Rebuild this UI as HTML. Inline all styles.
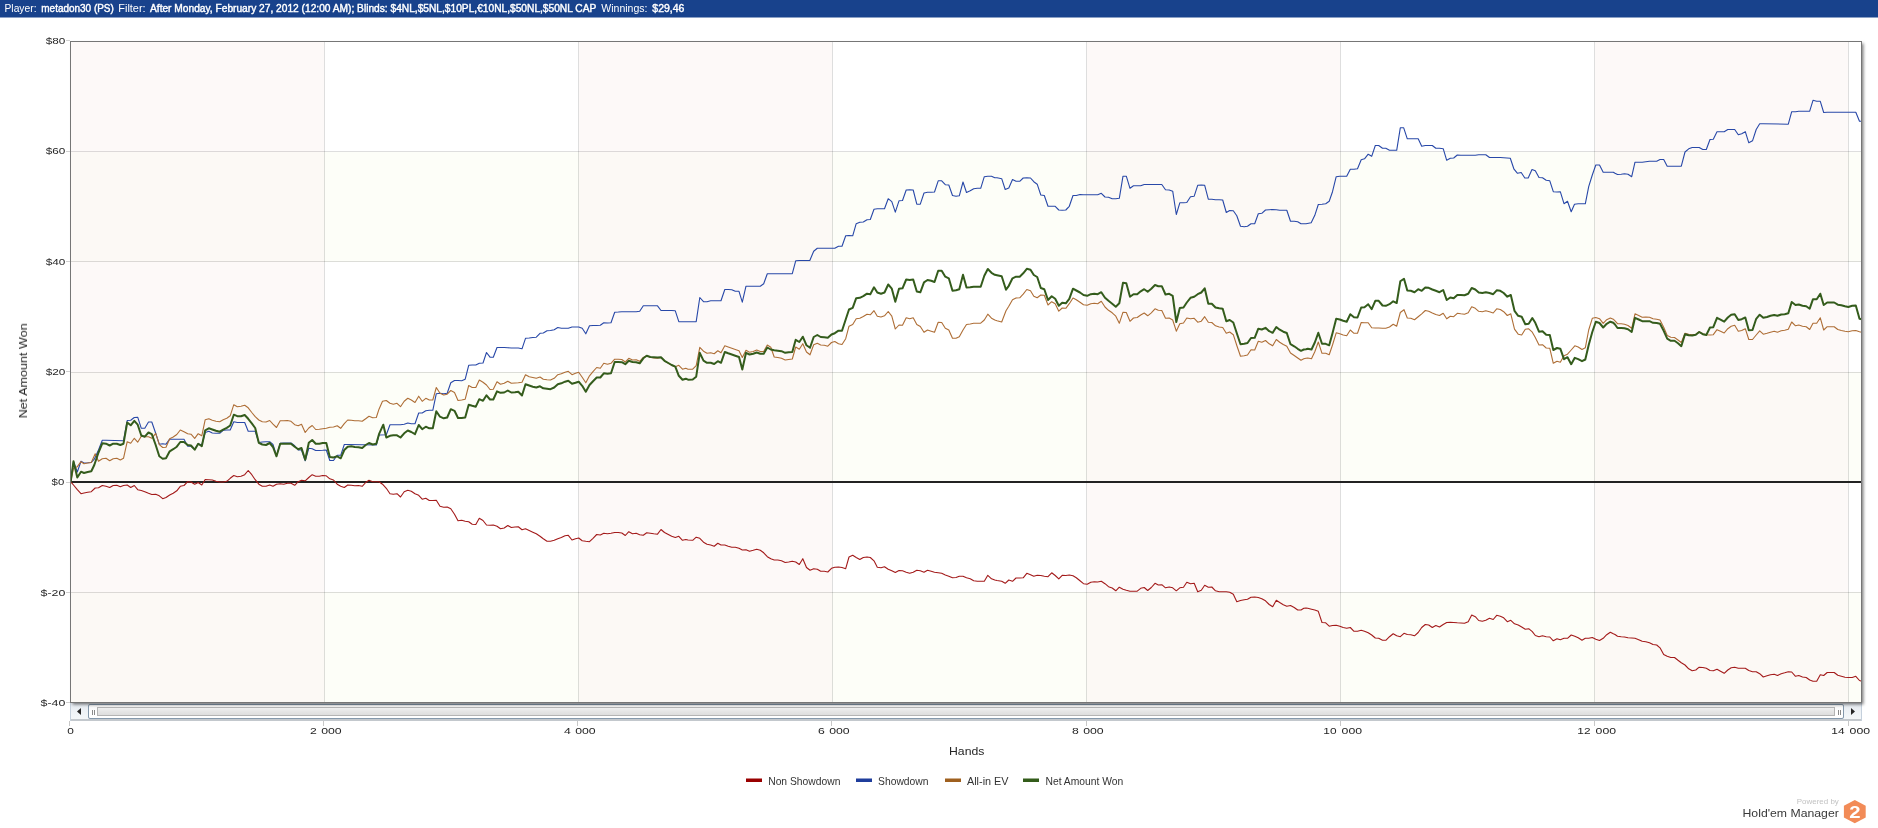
<!DOCTYPE html>
<html><head><meta charset="utf-8"><title>Hold'em Manager 2 - Graph</title>
<style>
html,body{margin:0;padding:0;background:#fff;}
body{width:1878px;height:828px;overflow:hidden;font-family:"Liberation Sans",sans-serif;}
svg{display:block;position:absolute;left:0;top:0;will-change:transform;}
text{font-family:"Liberation Sans",sans-serif;}
.ax{font-size:9.9px;fill:#262626;}
.tt{font-size:11.1px;fill:#262626;}
.lg{font-size:10.3px;fill:#333;}
.hd{font-size:10.2px;fill:#fff;}
.hb{font-size:10.2px;fill:#fff;stroke:#fff;stroke-width:0.4px;}
</style></head><body>
<svg width="1878" height="828" viewBox="0 0 1878 828">
<defs>
<linearGradient id="sbtrack" x1="0" y1="0" x2="0" y2="1"><stop offset="0" stop-color="#dfe3e8"/><stop offset="0.5" stop-color="#f3f5f8"/><stop offset="1" stop-color="#dfe4ea"/></linearGradient>
<linearGradient id="sbthumb" x1="0" y1="0" x2="0" y2="1"><stop offset="0" stop-color="#f2f2f2"/><stop offset="0.45" stop-color="#e6e6e6"/><stop offset="1" stop-color="#dcdcdc"/></linearGradient>
<linearGradient id="sbgrip" x1="0" y1="0" x2="0" y2="1"><stop offset="0" stop-color="#f4f4f4"/><stop offset="0.5" stop-color="#ffffff"/><stop offset="1" stop-color="#ffffff"/></linearGradient>
<linearGradient id="sbbtn" x1="0" y1="0" x2="0" y2="1"><stop offset="0" stop-color="#e3e8ee"/><stop offset="0.5" stop-color="#eef2f6"/><stop offset="1" stop-color="#f4f7f9"/></linearGradient>
<filter id="blur" x="-1%" y="-3%" width="102%" height="106%"><feGaussianBlur stdDeviation="1.4"/></filter>
<clipPath id="plotclip"><rect x="71" y="42" width="1790.5" height="660"/></clipPath>
</defs>

<rect x="0" y="0" width="1878" height="17.5" fill="#18428c"/>
<text x="4.5" y="12.1" class="hd" textLength="32" lengthAdjust="spacingAndGlyphs">Player:</text>
<text x="41.3" y="12.1" class="hb" textLength="72.5" lengthAdjust="spacingAndGlyphs">metadon30 (PS)</text>
<text x="118.3" y="12.1" class="hd" textLength="27.3" lengthAdjust="spacingAndGlyphs">Filter:</text>
<text x="150" y="12.1" class="hb" textLength="446.3" lengthAdjust="spacingAndGlyphs">After Monday, February 27, 2012 (12:00 AM); Blinds: $4NL,$5NL,$10PL,&#8364;10NL,$50NL,$50NL CAP</text>
<text x="601.3" y="12.1" class="hd" textLength="46.2" lengthAdjust="spacingAndGlyphs">Winnings:</text>
<text x="652.3" y="12.1" class="hb" textLength="32.1" lengthAdjust="spacingAndGlyphs">$29,46</text>
<g shape-rendering="crispEdges">
<rect x="70" y="703" width="1792" height="18" fill="url(#sbtrack)"/>
<rect x="70" y="719" width="1792" height="2" fill="#c3c8cd"/>
<rect x="70" y="703" width="1" height="18" fill="#c5d0dc"/>
<rect x="1861" y="703" width="1" height="18" fill="#c5d0dc"/>
<rect x="71" y="703" width="17" height="16" fill="url(#sbbtn)"/>
<rect x="1844" y="703" width="17" height="16" fill="url(#sbbtn)"/>
</g>
<rect x="88.5" y="704.5" width="1755" height="14" rx="1.5" fill="url(#sbgrip)" stroke="#8498ab" stroke-width="1"/>
<rect x="97.5" y="707.5" width="1737" height="8" fill="url(#sbthumb)" stroke="#b4b4b4" stroke-width="1"/>
<g shape-rendering="crispEdges">
<rect x="92" y="710" width="1" height="5" fill="#8a8a8a"/><rect x="94" y="710" width="1" height="5" fill="#8a8a8a"/>
<rect x="1838" y="710" width="1" height="5" fill="#8a8a8a"/><rect x="1840" y="710" width="1" height="5" fill="#8a8a8a"/>
</g>
<path d="M77,711.5 L81,708 L81,715 Z" fill="#262626"/>
<path d="M1855,711.5 L1851,708 L1851,715 Z" fill="#262626"/>
<rect x="72.5" y="43.5" width="1791" height="661" fill="#000" fill-opacity="0.5" filter="url(#blur)"/>
<g shape-rendering="crispEdges">
<rect x="70" y="41" width="1792" height="662" fill="#ffffff"/>
<rect x="71" y="152" width="1790" height="110" fill="#fdfef8"/>
<rect x="71" y="372" width="1790" height="110" fill="#fdfef8"/>
<rect x="71" y="592" width="1790" height="110" fill="#fdfef8"/>
<rect x="71" y="42" width="253" height="660" fill="#fbf3f1" fill-opacity="0.5"/>
<rect x="579" y="42" width="253" height="660" fill="#fbf3f1" fill-opacity="0.5"/>
<rect x="1087" y="42" width="253" height="660" fill="#fbf3f1" fill-opacity="0.5"/>
<rect x="1595" y="42" width="253" height="660" fill="#fbf3f1" fill-opacity="0.5"/>
<rect x="324" y="42" width="1" height="660" fill="#000" fill-opacity="0.13"/>
<rect x="578" y="42" width="1" height="660" fill="#000" fill-opacity="0.13"/>
<rect x="832" y="42" width="1" height="660" fill="#000" fill-opacity="0.13"/>
<rect x="1086" y="42" width="1" height="660" fill="#000" fill-opacity="0.13"/>
<rect x="1340" y="42" width="1" height="660" fill="#000" fill-opacity="0.13"/>
<rect x="1594" y="42" width="1" height="660" fill="#000" fill-opacity="0.13"/>
<rect x="1848" y="42" width="1" height="660" fill="#000" fill-opacity="0.13"/>
<rect x="71" y="151" width="1790" height="1" fill="#000" fill-opacity="0.13"/>
<rect x="71" y="261" width="1790" height="1" fill="#000" fill-opacity="0.13"/>
<rect x="71" y="372" width="1790" height="1" fill="#000" fill-opacity="0.13"/>
<rect x="71" y="592" width="1790" height="1" fill="#000" fill-opacity="0.13"/>
</g>
<rect x="71" y="481" width="1790" height="2" fill="#222222" shape-rendering="crispEdges"/>
<g clip-path="url(#plotclip)" fill="none" stroke-linejoin="round" stroke-linecap="round">
<path d="M70.7,481.7 L73.5,485.0 L77.3,489.7 L81.0,493.7 L84.0,493.0 L87.7,492.2 L91.3,491.7 L95.2,488.0 L98.5,487.8 L102.3,485.5 L106.0,486.3 L109.7,487.5 L113.2,485.5 L116.8,485.3 L120.3,486.7 L123.5,485.5 L127.2,485.0 L130.7,487.5 L134.3,485.5 L137.7,489.7 L141.3,490.5 L144.8,491.7 L148.5,493.3 L151.8,494.5 L155.7,494.2 L159.3,495.8 L162.7,498.7 L166.0,497.5 L169.7,495.0 L173.2,493.3 L176.8,490.8 L180.3,486.3 L184.0,485.5 L187.7,481.7 L191.0,482.0 L194.7,484.2 L198.2,482.5 L201.8,485.0 L205.2,479.5 L208.8,479.7 L212.3,480.0 L216.0,481.3 L219.7,482.0 L223.2,482.0 L226.8,481.3 L230.2,478.3 L233.8,475.5 L237.3,476.7 L241.0,476.3 L244.7,474.7 L248.2,470.5 L251.8,474.7 L255.2,479.7 L258.8,484.2 L262.3,486.2 L266.0,486.3 L269.7,485.0 L273.0,486.3 L276.5,484.2 L280.2,483.8 L283.8,484.2 L287.3,483.3 L291.0,483.3 L294.7,485.3 L298.2,481.7 L301.5,480.3 L305.2,480.8 L308.8,477.5 L312.2,474.7 L315.7,476.2 L319.3,476.2 L322.7,475.5 L326.3,475.8 L329.8,478.8 L333.5,480.0 L337.2,484.2 L340.7,486.3 L344.3,487.5 L347.7,485.0 L351.3,485.3 L354.8,485.8 L358.5,485.5 L362.2,486.3 L365.7,482.5 L369.0,480.3 L372.7,481.7 L376.3,481.7 L379.0,481.7 L382.5,484.2 L386.3,488.3 L390.0,493.8 L393.3,494.2 L397.0,493.7 L400.5,497.0 L404.2,491.7 L407.8,490.3 L411.3,491.2 L415.0,493.8 L418.7,495.3 L422.2,499.2 L425.8,498.3 L429.3,500.5 L432.8,500.5 L436.3,500.3 L440.0,506.3 L443.7,507.2 L447.2,507.0 L450.8,508.8 L454.5,514.2 L458.0,520.8 L461.7,520.3 L465.2,521.3 L468.7,521.7 L472.2,524.2 L475.8,524.5 L479.3,518.3 L483.0,520.5 L486.5,525.0 L490.0,525.3 L493.3,525.0 L497.0,526.3 L500.5,528.7 L504.2,528.0 L507.8,525.5 L511.3,527.5 L515.0,527.0 L518.3,526.7 L522.0,529.7 L525.5,528.8 L529.2,530.5 L532.8,532.2 L536.3,533.8 L540.0,536.3 L543.3,538.8 L547.0,541.2 L550.5,541.2 L554.2,540.3 L557.8,538.7 L561.3,537.5 L565.0,535.8 L568.3,535.3 L572.0,540.0 L575.5,538.7 L578.7,538.0 L582.2,540.8 L585.8,541.3 L589.5,541.7 L593.0,538.3 L596.7,534.5 L600.3,535.0 L603.8,533.3 L607.5,533.7 L611.0,533.3 L614.7,532.5 L618.3,532.5 L621.8,533.0 L625.3,535.5 L628.8,531.7 L632.5,533.7 L636.2,533.3 L639.7,534.7 L643.3,535.3 L646.7,532.8 L650.3,533.3 L653.8,533.8 L657.5,534.2 L661.0,529.5 L664.5,532.5 L668.3,534.5 L671.7,536.3 L675.3,537.5 L678.8,536.3 L682.5,540.3 L685.8,539.5 L688.0,540.0 L692.7,540.3 L696.2,537.2 L699.8,538.3 L703.5,542.2 L707.0,544.2 L710.7,545.0 L714.2,546.2 L717.8,543.3 L721.0,545.0 L724.8,545.0 L728.2,546.2 L731.8,547.2 L735.3,547.2 L739.0,548.3 L742.3,550.0 L746.0,549.7 L749.5,551.2 L753.2,550.3 L756.7,549.2 L760.3,550.3 L763.7,552.8 L767.3,556.7 L770.8,558.8 L774.2,560.0 L777.8,560.0 L781.5,560.8 L785.2,562.5 L788.7,562.0 L792.3,561.3 L795.7,562.0 L799.3,564.5 L802.8,558.7 L806.5,567.5 L810.0,570.3 L813.7,568.8 L817.3,569.2 L820.7,571.3 L824.3,571.3 L827.8,572.0 L831.5,568.3 L834.8,567.2 L838.5,567.0 L842.0,567.5 L845.7,568.7 L849.0,557.0 L852.7,555.3 L856.2,557.5 L859.8,559.5 L863.3,557.5 L867.0,557.0 L870.3,557.5 L874.0,560.8 L877.3,567.2 L881.0,567.8 L884.5,566.7 L888.2,569.2 L891.8,570.8 L895.3,572.5 L899.0,570.5 L902.5,570.8 L906.2,572.2 L909.7,573.3 L913.2,572.2 L916.8,570.3 L920.3,570.8 L924.0,572.2 L927.5,570.3 L931.2,571.3 L934.5,572.2 L938.2,572.8 L941.7,573.3 L945.3,575.0 L948.8,576.2 L952.5,577.8 L956.0,577.5 L959.3,576.2 L963.0,576.2 L966.5,577.8 L970.2,578.8 L973.7,580.8 L977.3,581.2 L980.7,581.2 L984.3,581.3 L987.8,575.3 L991.5,578.8 L994.8,580.0 L997.0,580.5 L1001.7,581.3 L1005.2,583.3 L1008.8,580.0 L1012.5,581.3 L1016.0,578.0 L1019.7,578.0 L1023.2,577.8 L1026.8,573.3 L1030.5,574.7 L1033.8,576.3 L1037.2,575.3 L1040.8,575.5 L1044.3,576.3 L1048.0,576.7 L1051.7,572.8 L1055.2,575.5 L1058.8,578.8 L1062.2,575.3 L1065.8,575.5 L1069.3,575.0 L1073.0,575.8 L1076.3,577.8 L1080.0,580.8 L1083.5,583.7 L1087.2,584.2 L1090.8,582.2 L1094.3,581.7 L1097.7,582.0 L1101.3,581.3 L1105.0,583.7 L1108.5,586.7 L1112.2,588.0 L1115.8,590.8 L1119.3,587.2 L1123.0,589.2 L1126.3,590.3 L1130.0,591.3 L1133.5,591.2 L1137.2,591.2 L1140.7,588.3 L1144.2,587.5 L1147.7,590.5 L1151.3,587.5 L1155.0,583.3 L1158.3,585.0 L1161.8,584.7 L1165.5,587.8 L1169.2,587.0 L1172.7,587.8 L1176.3,590.8 L1179.8,587.8 L1183.5,587.2 L1186.8,582.2 L1190.5,583.8 L1194.2,583.3 L1197.7,591.7 L1201.3,590.3 L1204.7,585.3 L1208.3,587.2 L1211.8,587.0 L1215.5,590.8 L1219.2,591.7 L1222.7,591.7 L1226.3,591.7 L1229.7,592.2 L1233.3,594.2 L1236.8,601.7 L1240.5,600.5 L1244.2,599.7 L1247.5,599.2 L1251.0,597.2 L1254.7,597.0 L1258.3,597.5 L1261.8,598.7 L1265.5,600.8 L1269.2,604.5 L1272.7,606.7 L1276.3,600.3 L1279.7,602.5 L1283.3,604.7 L1286.8,606.2 L1290.5,605.5 L1294.2,607.5 L1297.7,610.0 L1301.0,610.0 L1303.8,608.3 L1306.0,608.0 L1307.8,608.3 L1311.5,609.2 L1314.8,610.0 L1318.3,611.3 L1322.0,622.5 L1325.7,622.8 L1329.2,626.2 L1332.5,625.5 L1336.2,625.3 L1339.8,626.2 L1343.2,627.5 L1346.7,628.3 L1350.3,627.5 L1354.0,631.3 L1357.5,631.3 L1361.2,630.3 L1364.5,631.2 L1368.2,632.8 L1371.7,635.0 L1375.3,638.0 L1378.7,638.3 L1382.5,640.3 L1385.8,640.3 L1389.5,636.7 L1393.2,633.7 L1396.7,635.8 L1400.3,636.7 L1404.0,633.3 L1407.3,634.5 L1410.8,634.7 L1414.5,635.8 L1418.2,632.5 L1421.7,627.5 L1425.3,624.5 L1428.7,625.0 L1432.3,627.5 L1435.8,625.5 L1439.5,627.0 L1443.2,624.5 L1446.7,622.5 L1450.3,622.2 L1453.7,622.5 L1457.3,622.8 L1460.8,623.0 L1464.5,623.3 L1468.2,621.7 L1471.7,615.0 L1475.3,616.7 L1478.7,620.5 L1482.3,621.3 L1485.8,620.3 L1489.5,618.3 L1493.2,619.5 L1496.7,615.3 L1500.3,616.2 L1503.7,617.8 L1507.3,621.7 L1510.8,620.3 L1514.5,623.8 L1518.2,625.0 L1521.7,627.0 L1525.3,629.2 L1528.7,628.7 L1532.3,631.7 L1535.3,635.5 L1539.0,636.7 L1542.5,635.8 L1546.2,636.7 L1549.8,637.0 L1553.3,640.8 L1557.0,638.8 L1560.3,639.7 L1564.0,638.3 L1567.5,638.3 L1571.2,635.0 L1574.8,636.3 L1578.2,637.8 L1582.0,640.3 L1585.3,638.3 L1588.7,638.3 L1592.3,637.5 L1595.8,639.2 L1599.5,640.5 L1603.2,638.3 L1606.7,634.7 L1610.3,632.2 L1613.3,633.8 L1615.0,634.5 L1617.5,636.2 L1621.2,636.7 L1624.5,637.0 L1628.0,637.8 L1631.7,638.0 L1635.0,638.3 L1638.7,639.7 L1642.2,641.3 L1645.8,641.7 L1649.5,642.8 L1653.0,644.5 L1656.7,645.0 L1660.0,647.8 L1663.7,654.5 L1667.2,656.2 L1670.8,657.5 L1674.5,657.5 L1678.0,660.3 L1681.3,662.8 L1685.0,665.0 L1688.7,668.8 L1692.2,670.8 L1695.8,670.0 L1699.2,667.2 L1702.8,667.5 L1706.3,668.3 L1710.0,670.5 L1713.3,670.8 L1717.0,669.2 L1720.5,671.2 L1724.2,673.3 L1727.8,670.0 L1731.2,667.8 L1734.7,667.2 L1738.3,668.3 L1741.7,668.3 L1745.3,668.3 L1748.8,670.5 L1752.5,671.7 L1756.2,671.7 L1759.7,673.7 L1763.3,677.0 L1767.0,675.8 L1770.5,674.7 L1774.2,674.2 L1777.5,675.5 L1781.2,673.7 L1784.7,672.8 L1788.3,671.7 L1791.7,672.0 L1795.5,676.3 L1798.8,675.5 L1802.5,677.0 L1806.2,677.5 L1809.7,680.0 L1813.0,681.3 L1816.7,681.2 L1820.3,674.7 L1823.7,675.5 L1827.2,672.5 L1830.8,672.5 L1834.2,672.5 L1837.8,675.3 L1841.3,676.2 L1845.0,677.2 L1848.3,677.5 L1852.2,677.5 L1855.8,676.3 L1859.5,680.5 L1861.7,681.2" stroke="#a31a1a" stroke-width="1.1"/>
<path d="M70.7,481.7 L73.5,461.7 L77.3,472.0 L81.0,461.2 L84.0,463.0 L87.7,462.8 L91.3,462.5 L94.3,459.2 L98.5,450.0 L102.3,440.3 L106.0,440.3 L123.5,440.8 L127.2,420.5 L130.7,420.3 L134.3,417.5 L137.7,417.2 L141.3,428.3 L144.8,428.3 L148.5,422.0 L151.8,422.0 L155.7,433.3 L159.3,444.2 L162.7,443.7 L166.0,444.2 L169.7,439.2 L173.2,439.2 L184.0,439.2 L187.7,446.2 L191.0,446.2 L194.7,449.2 L198.2,443.8 L201.8,445.0 L205.2,432.5 L208.8,431.3 L212.3,433.0 L216.0,433.3 L219.7,433.3 L223.2,430.3 L226.8,430.0 L230.2,430.0 L233.8,421.7 L237.3,422.5 L241.0,422.5 L244.7,422.5 L248.2,431.2 L251.8,431.3 L255.2,431.3 L258.8,442.5 L262.3,442.0 L266.0,441.7 L269.7,441.7 L273.0,444.5 L276.5,455.8 L280.2,443.3 L283.8,443.0 L287.3,443.0 L291.0,443.0 L294.7,445.8 L298.2,450.0 L301.5,450.0 L305.2,460.8 L308.8,448.3 L312.2,448.7 L315.7,450.5 L319.3,450.5 L322.7,450.3 L326.3,450.0 L329.8,460.5 L333.5,460.5 L337.2,455.3 L340.7,455.3 L344.3,444.5 L347.7,444.5 L376.3,445.0 L379.0,435.0 L386.3,434.7 L390.0,424.7 L393.3,424.7 L397.0,424.7 L400.5,424.7 L404.2,424.2 L407.8,423.0 L411.3,423.8 L415.0,423.8 L418.7,413.0 L422.2,413.0 L425.8,410.8 L429.3,410.3 L432.8,410.3 L436.3,393.7 L440.0,393.3 L443.7,393.7 L447.2,393.3 L450.8,382.8 L454.5,380.5 L458.0,380.5 L461.7,380.8 L465.2,379.2 L468.7,365.3 L472.2,365.0 L475.8,365.0 L479.3,363.3 L483.0,363.0 L486.5,352.5 L490.0,357.2 L493.3,357.2 L497.0,347.5 L500.5,347.5 L504.2,347.5 L507.8,347.8 L511.3,348.0 L515.0,348.0 L518.3,348.0 L522.0,348.8 L525.5,338.3 L529.2,338.0 L532.8,337.5 L536.3,337.2 L540.0,333.3 L543.3,333.0 L547.0,330.8 L550.5,330.5 L554.2,329.7 L557.8,327.5 L561.3,328.3 L565.0,328.3 L568.3,328.3 L572.0,327.0 L575.5,327.0 L578.7,327.0 L582.2,328.3 L585.8,333.8 L589.5,325.8 L593.0,325.5 L596.7,325.5 L600.3,325.3 L603.8,322.8 L607.5,323.0 L611.0,322.8 L614.7,312.2 L618.3,312.0 L621.8,311.7 L625.3,311.7 L628.8,311.7 L632.5,311.7 L636.2,311.7 L639.7,311.3 L643.3,305.8 L646.7,305.8 L650.3,305.8 L653.8,305.8 L657.5,305.8 L661.0,310.5 L664.5,310.5 L668.3,310.5 L671.7,310.5 L675.3,310.8 L678.8,321.7 L682.5,321.7 L688.0,321.7 L696.2,321.7 L699.8,297.5 L703.5,301.7 L707.0,301.7 L710.7,300.8 L714.2,300.8 L717.8,300.8 L721.0,300.8 L724.8,289.5 L728.2,289.5 L731.8,289.7 L735.3,291.2 L739.0,291.3 L742.3,302.2 L746.0,286.2 L749.5,286.2 L753.2,286.2 L756.7,286.2 L760.3,286.2 L763.7,283.8 L767.3,273.7 L770.8,273.7 L792.3,273.7 L795.7,260.8 L799.3,260.5 L809.8,260.5 L813.7,251.2 L817.3,248.3 L820.7,248.3 L834.8,248.3 L838.5,246.3 L842.0,246.3 L845.7,235.8 L849.0,235.5 L852.7,235.8 L856.2,223.7 L859.8,222.2 L863.3,222.0 L867.0,219.7 L870.3,219.5 L874.0,209.2 L877.3,208.8 L881.0,208.8 L884.5,208.8 L888.2,198.7 L891.8,201.7 L895.3,212.2 L899.0,200.8 L902.5,200.5 L906.2,190.0 L909.7,189.7 L913.2,190.0 L916.8,204.2 L920.3,204.2 L924.0,193.0 L927.5,192.2 L931.2,192.2 L934.5,192.0 L938.2,180.8 L941.7,180.8 L945.3,184.7 L948.8,185.0 L952.5,195.5 L956.0,196.2 L959.3,195.8 L963.0,182.0 L966.5,192.5 L970.2,190.8 L973.7,188.7 L977.3,188.3 L980.7,188.3 L984.3,176.7 L987.8,176.3 L991.5,176.3 L994.8,177.8 L997.0,177.8 L1001.7,178.7 L1005.2,189.5 L1008.8,188.0 L1012.5,179.5 L1016.0,181.2 L1019.7,181.3 L1023.2,178.0 L1026.8,177.8 L1030.5,178.0 L1033.8,181.7 L1037.2,184.2 L1040.8,195.0 L1044.3,195.5 L1048.0,206.3 L1051.7,206.2 L1055.2,206.3 L1058.8,210.0 L1062.2,210.3 L1065.8,210.0 L1069.3,206.3 L1073.0,195.5 L1076.3,195.5 L1080.0,194.5 L1083.5,194.7 L1087.2,194.7 L1097.7,194.7 L1101.3,193.3 L1105.0,197.0 L1108.5,197.2 L1112.2,198.7 L1115.8,198.7 L1119.3,198.3 L1123.0,176.2 L1126.3,176.2 L1130.0,188.3 L1133.5,185.8 L1137.2,185.8 L1140.7,185.8 L1144.2,184.5 L1161.8,184.5 L1165.5,189.7 L1169.2,190.0 L1172.7,191.2 L1176.3,214.5 L1179.8,202.8 L1183.5,202.8 L1186.8,202.5 L1190.5,196.7 L1194.2,196.2 L1197.7,185.3 L1201.3,185.0 L1204.7,185.3 L1208.3,199.2 L1211.8,199.2 L1215.5,199.7 L1219.2,199.7 L1222.7,200.0 L1226.3,212.5 L1229.7,210.5 L1233.3,210.8 L1236.8,215.8 L1240.5,226.3 L1244.2,226.7 L1247.5,226.3 L1251.0,223.8 L1254.7,223.7 L1258.3,213.8 L1261.8,213.3 L1265.5,210.0 L1269.2,209.7 L1272.7,209.5 L1276.3,209.7 L1279.7,210.3 L1283.3,210.3 L1286.8,210.3 L1290.5,221.3 L1294.2,221.3 L1297.7,221.7 L1301.0,223.7 L1306.0,223.7 L1311.2,222.8 L1314.8,215.3 L1318.3,204.5 L1322.0,204.2 L1325.7,203.8 L1329.2,201.3 L1332.5,191.7 L1336.2,176.7 L1339.8,176.3 L1343.2,176.3 L1346.7,176.2 L1350.3,169.2 L1354.0,169.2 L1357.5,168.8 L1361.2,159.7 L1364.5,158.8 L1368.2,154.2 L1371.7,156.3 L1375.3,145.5 L1378.7,145.5 L1382.5,148.3 L1385.8,148.3 L1389.5,150.3 L1393.2,150.3 L1396.7,150.3 L1400.3,127.8 L1403.7,127.8 L1407.3,138.8 L1410.8,138.8 L1414.5,138.8 L1418.2,138.8 L1421.7,146.2 L1425.3,145.5 L1428.7,145.5 L1432.3,145.5 L1435.8,148.3 L1439.5,148.3 L1443.2,148.7 L1446.7,160.3 L1450.3,158.3 L1453.7,158.0 L1457.3,155.0 L1460.8,155.3 L1464.5,155.3 L1475.3,155.3 L1478.7,154.7 L1482.3,154.7 L1485.8,154.7 L1489.5,157.5 L1493.2,157.5 L1500.3,157.5 L1510.3,158.3 L1514.0,169.2 L1517.5,173.3 L1521.2,172.5 L1524.8,178.0 L1528.2,178.0 L1532.0,169.5 L1535.3,170.8 L1539.0,177.5 L1542.5,177.8 L1546.2,180.3 L1549.8,180.8 L1553.3,191.7 L1557.0,192.0 L1560.3,191.7 L1564.0,203.7 L1567.5,201.3 L1571.2,211.7 L1574.5,204.2 L1578.2,203.8 L1581.7,203.8 L1585.3,203.8 L1588.7,186.7 L1592.3,175.0 L1595.8,165.0 L1599.5,165.0 L1603.2,172.2 L1606.7,172.2 L1610.3,172.2 L1613.3,172.2 L1615.0,173.3 L1617.5,174.5 L1621.2,174.2 L1624.5,173.8 L1628.0,174.2 L1631.7,176.7 L1635.0,162.2 L1638.7,162.2 L1642.2,162.2 L1645.8,161.7 L1649.5,161.2 L1653.0,161.2 L1656.7,161.2 L1660.0,159.5 L1663.7,159.5 L1667.2,166.2 L1670.8,166.2 L1674.5,166.2 L1678.0,166.2 L1681.3,166.2 L1685.0,152.0 L1688.7,148.8 L1692.2,147.5 L1695.8,147.5 L1699.2,147.5 L1702.8,149.5 L1706.3,149.5 L1710.0,139.5 L1713.3,139.2 L1717.0,131.7 L1720.5,131.7 L1724.2,131.7 L1727.8,129.5 L1731.2,129.5 L1734.7,129.5 L1738.3,134.7 L1741.7,133.7 L1745.3,131.7 L1748.8,142.8 L1752.5,140.8 L1756.2,129.5 L1759.7,123.8 L1763.3,123.8 L1788.3,124.2 L1791.7,111.7 L1795.5,111.7 L1798.8,111.3 L1802.5,111.3 L1806.2,111.3 L1809.7,111.2 L1813.0,100.3 L1816.7,101.2 L1820.3,101.3 L1823.7,112.5 L1827.2,112.2 L1855.8,112.2 L1859.5,121.3 L1861.7,121.3" stroke="#2848a8" stroke-width="1.1"/>
<path d="M70.7,481.7 L73.5,468.3 L77.3,466.7 L81.0,461.7 L84.0,463.7 L87.7,463.0 L91.3,462.5 L95.2,453.7 L98.5,461.2 L102.3,458.7 L106.0,458.3 L109.7,460.8 L113.2,458.7 L116.8,458.3 L120.3,460.0 L123.5,458.3 L127.2,441.7 L130.7,443.3 L134.3,438.3 L137.7,442.2 L141.3,436.3 L144.8,436.7 L148.5,436.7 L151.8,438.3 L155.7,433.3 L159.3,444.7 L162.7,447.5 L166.0,447.2 L169.7,438.7 L173.2,437.0 L176.8,434.5 L180.3,430.0 L184.0,431.7 L187.7,433.7 L191.0,434.2 L194.7,438.3 L198.2,433.7 L201.8,435.8 L205.2,419.7 L208.8,418.8 L212.3,420.3 L216.0,421.2 L219.7,421.7 L223.2,419.7 L226.8,418.3 L230.2,415.8 L233.8,404.7 L237.3,406.7 L241.0,406.3 L244.7,405.3 L248.2,407.8 L251.8,412.5 L255.2,416.7 L258.8,420.0 L262.3,421.7 L266.0,422.0 L269.7,420.5 L273.0,424.2 L276.5,427.5 L280.2,420.8 L283.8,420.8 L287.3,420.5 L291.0,421.3 L294.7,424.7 L298.2,425.8 L301.5,424.2 L305.2,432.5 L308.8,428.0 L312.2,425.5 L315.7,429.5 L319.3,429.2 L322.7,428.7 L326.3,428.3 L329.8,427.2 L333.5,427.0 L337.2,425.8 L340.7,428.3 L344.3,423.7 L347.7,420.0 L351.3,420.3 L354.8,420.8 L358.5,420.8 L362.2,421.3 L365.7,418.7 L369.0,416.3 L372.7,417.8 L376.3,417.5 L379.0,409.2 L382.5,401.3 L386.3,400.5 L390.0,403.3 L393.3,404.2 L397.0,403.3 L400.5,406.7 L404.2,401.2 L407.8,398.3 L411.3,400.0 L415.0,402.5 L418.7,396.2 L422.2,401.3 L425.8,398.3 L429.3,400.0 L432.8,400.0 L436.3,387.5 L440.0,393.3 L443.7,395.0 L447.2,394.2 L450.8,390.5 L454.5,392.5 L458.0,400.5 L461.7,400.0 L465.2,399.2 L468.7,385.5 L472.2,387.5 L475.8,387.5 L479.3,380.0 L483.0,382.2 L486.5,385.0 L490.0,389.5 L493.3,389.2 L497.0,381.7 L500.5,384.2 L504.2,383.3 L507.8,381.2 L511.3,383.3 L515.0,383.0 L518.3,382.8 L522.0,382.2 L525.5,374.7 L529.2,376.7 L532.8,377.5 L536.3,378.3 L540.0,377.0 L543.3,379.2 L547.0,379.7 L550.5,380.0 L554.2,378.3 L557.8,374.7 L561.3,373.8 L565.0,372.2 L568.3,371.3 L572.0,374.7 L575.5,373.3 L578.7,372.2 L582.2,377.2 L585.8,382.8 L589.5,375.8 L593.0,371.7 L596.7,367.5 L600.3,368.3 L603.8,363.3 L607.5,364.2 L611.0,363.3 L614.7,359.2 L618.3,359.2 L621.8,359.5 L625.3,362.0 L628.8,358.3 L632.5,360.0 L636.2,359.7 L639.7,361.3 L643.3,357.5 L646.7,355.8 L650.3,357.2 L653.8,358.0 L657.5,358.3 L661.0,357.5 L664.5,360.8 L668.3,363.3 L671.7,365.3 L675.3,366.7 L678.8,365.3 L682.5,369.2 L685.8,368.3 L688.0,369.2 L692.7,369.2 L696.2,365.7 L699.8,347.3 L703.5,351.2 L707.0,353.2 L710.7,352.8 L714.2,353.7 L717.8,350.8 L721.0,352.8 L724.8,345.8 L728.2,347.0 L731.8,348.3 L735.3,349.5 L739.0,350.8 L742.3,357.5 L746.0,350.3 L749.5,352.3 L753.2,351.5 L756.7,350.0 L760.3,351.5 L763.7,351.5 L767.3,345.0 L770.8,347.3 L774.2,357.0 L777.8,357.5 L781.5,358.3 L785.2,360.0 L788.7,359.5 L792.3,359.0 L795.7,347.0 L799.3,349.2 L802.8,343.7 L806.5,352.0 L810.0,354.8 L813.7,344.8 L817.3,343.2 L820.7,345.0 L824.3,345.3 L827.8,346.2 L831.5,342.5 L834.8,341.5 L838.5,343.7 L842.0,344.5 L845.7,338.7 L849.0,326.2 L852.7,324.5 L856.2,318.7 L859.8,318.2 L863.3,316.5 L867.0,314.2 L870.3,314.8 L874.0,310.7 L877.3,316.2 L881.0,317.0 L884.5,315.8 L888.2,311.5 L891.8,316.2 L895.3,329.0 L899.0,325.0 L902.5,325.3 L906.2,317.8 L909.7,318.7 L913.2,317.8 L916.8,324.5 L920.3,326.5 L924.0,332.3 L927.5,330.0 L931.2,331.2 L934.5,332.3 L938.2,322.3 L941.7,322.5 L945.3,328.2 L948.8,330.0 L952.5,338.3 L956.0,338.2 L959.3,336.7 L963.0,330.0 L966.5,324.5 L970.2,324.0 L973.7,323.3 L977.3,323.2 L980.7,323.2 L984.3,320.0 L987.8,314.2 L991.5,318.2 L994.8,320.0 L997.0,320.7 L1001.7,322.0 L1006.0,310.8 L1008.8,306.3 L1012.5,299.7 L1016.0,298.0 L1019.7,297.8 L1023.2,294.2 L1026.8,289.5 L1030.5,290.8 L1033.8,296.2 L1037.2,297.8 L1040.8,295.0 L1044.3,295.3 L1048.0,305.0 L1051.7,301.7 L1055.2,303.8 L1058.8,311.2 L1062.2,308.0 L1065.8,308.3 L1069.3,303.7 L1073.0,298.0 L1076.3,299.7 L1080.0,302.2 L1083.5,304.7 L1087.2,305.3 L1090.8,303.7 L1094.3,303.3 L1097.7,303.7 L1101.3,301.3 L1105.0,307.0 L1108.5,310.3 L1112.2,312.8 L1115.8,316.2 L1119.3,323.3 L1123.0,312.2 L1126.3,312.5 L1130.0,321.3 L1133.5,318.0 L1137.2,317.5 L1140.7,315.0 L1144.2,313.0 L1147.7,315.8 L1151.3,312.8 L1155.0,308.8 L1158.3,310.3 L1161.8,310.5 L1165.5,318.3 L1169.2,318.0 L1172.7,320.0 L1176.3,331.2 L1179.8,323.7 L1183.5,323.0 L1186.8,318.0 L1190.5,318.8 L1194.2,318.3 L1197.7,322.2 L1201.3,321.2 L1204.7,316.7 L1208.3,322.2 L1211.8,322.5 L1215.5,325.8 L1219.2,327.0 L1222.7,327.5 L1226.3,333.3 L1229.7,332.0 L1233.3,334.7 L1236.8,345.5 L1240.5,356.2 L1244.2,355.8 L1247.5,355.0 L1251.0,349.7 L1254.7,350.0 L1258.3,341.2 L1261.8,342.2 L1265.5,340.5 L1269.2,343.8 L1272.7,345.8 L1276.3,339.5 L1279.7,342.2 L1283.3,344.5 L1286.8,346.2 L1290.5,353.0 L1294.2,355.5 L1297.7,358.0 L1301.0,360.3 L1303.8,358.8 L1306.0,358.3 L1307.8,358.0 L1311.5,358.7 L1314.8,351.7 L1318.3,342.0 L1322.0,353.3 L1325.7,353.3 L1329.2,354.7 L1332.5,345.0 L1336.2,332.8 L1339.8,333.7 L1343.2,335.0 L1346.7,335.8 L1350.3,330.0 L1354.0,333.3 L1357.5,333.3 L1361.2,322.5 L1364.5,322.8 L1368.2,322.8 L1371.7,327.8 L1375.3,328.0 L1378.7,328.0 L1382.5,328.3 L1385.8,328.3 L1389.5,327.0 L1393.2,324.2 L1396.7,326.2 L1400.3,312.5 L1404.0,309.7 L1407.3,318.0 L1410.8,318.3 L1414.5,319.7 L1418.2,316.7 L1421.7,313.8 L1425.3,310.5 L1428.7,311.2 L1432.3,313.0 L1435.8,314.5 L1439.5,315.5 L1443.2,313.3 L1446.7,318.8 L1450.3,316.3 L1453.7,316.7 L1457.3,313.3 L1460.8,313.8 L1464.5,314.2 L1468.2,312.8 L1471.7,306.7 L1475.3,308.3 L1478.7,311.3 L1482.3,311.7 L1485.8,310.8 L1489.5,311.7 L1493.2,313.0 L1496.7,308.8 L1500.3,309.5 L1503.7,311.7 L1507.3,315.5 L1510.8,313.8 L1514.5,329.2 L1518.2,334.2 L1521.7,335.0 L1525.3,329.2 L1528.7,328.8 L1532.3,332.2 L1535.3,337.5 L1539.0,345.0 L1542.5,344.7 L1546.2,348.0 L1549.8,348.3 L1553.3,363.3 L1557.0,361.3 L1560.3,362.2 L1564.0,355.8 L1567.5,354.2 L1571.2,350.0 L1574.8,345.8 L1578.2,347.0 L1582.0,349.5 L1585.3,347.8 L1588.7,330.0 L1592.3,318.3 L1595.8,317.5 L1599.5,318.7 L1603.2,323.3 L1606.7,319.7 L1610.3,318.0 L1613.3,319.2 L1615.0,320.8 L1617.5,323.7 L1621.2,323.8 L1624.5,324.2 L1628.0,325.5 L1631.7,328.3 L1635.0,313.8 L1638.7,315.5 L1642.2,317.2 L1645.8,317.0 L1649.5,317.2 L1653.0,318.8 L1656.7,319.2 L1660.0,320.0 L1663.7,327.2 L1667.2,335.5 L1670.8,337.2 L1674.5,337.5 L1678.0,340.0 L1681.3,342.5 L1685.0,333.3 L1688.7,334.2 L1692.2,334.7 L1695.8,334.2 L1699.2,331.7 L1702.8,333.8 L1706.3,334.7 L1710.0,335.0 L1713.3,334.7 L1717.0,329.7 L1720.5,331.2 L1724.2,333.0 L1727.8,328.7 L1731.2,326.2 L1734.7,325.3 L1738.3,331.3 L1741.7,330.5 L1745.3,328.7 L1748.8,339.5 L1752.5,339.5 L1756.2,335.0 L1759.7,330.8 L1763.3,334.2 L1767.0,333.3 L1770.5,332.2 L1774.2,331.3 L1777.5,332.2 L1781.2,330.8 L1784.7,330.3 L1788.3,329.2 L1791.7,322.0 L1795.5,325.8 L1798.8,325.0 L1802.5,326.3 L1806.2,326.7 L1809.7,329.5 L1813.0,323.3 L1816.7,323.3 L1820.3,317.8 L1823.7,330.0 L1827.2,326.7 L1830.8,326.7 L1834.2,326.7 L1837.8,329.5 L1841.3,330.5 L1845.0,331.3 L1848.3,331.7 L1852.2,330.8 L1855.8,330.5 L1859.5,331.7 L1861.7,332.2" stroke="#ae6e36" stroke-width="1.1"/>
<path d="M70.7,481.7 L73.5,461.3 L77.3,477.5 L81.0,471.7 L84.0,473.0 L87.7,472.0 L91.3,471.3 L94.3,465.0 L98.5,452.5 L102.3,443.3 L106.0,443.7 L109.7,445.5 L113.2,443.7 L116.8,443.7 L120.3,445.0 L123.5,443.7 L127.2,422.5 L130.7,425.3 L134.3,420.8 L137.7,424.7 L141.3,435.5 L144.8,436.7 L148.5,432.5 L151.8,434.2 L155.7,445.0 L159.3,456.3 L162.7,458.7 L166.0,458.3 L169.7,451.3 L173.2,449.2 L176.8,446.7 L180.3,442.0 L184.0,442.0 L187.7,445.0 L191.0,445.5 L194.7,449.7 L198.2,443.8 L201.8,446.3 L205.2,430.3 L208.8,428.3 L212.3,429.5 L216.0,430.8 L219.7,431.7 L223.2,429.7 L226.8,427.8 L230.2,425.5 L233.8,414.7 L237.3,416.2 L241.0,416.2 L244.7,415.0 L248.2,418.8 L251.8,423.3 L255.2,428.0 L258.8,442.8 L262.3,444.5 L266.0,445.0 L269.7,443.0 L273.0,447.0 L276.5,456.3 L280.2,443.7 L283.8,443.7 L287.3,443.7 L291.0,443.7 L294.7,446.7 L298.2,449.2 L301.5,448.0 L305.2,459.7 L308.8,442.8 L312.2,440.0 L315.7,443.8 L319.3,443.7 L322.7,443.0 L326.3,443.0 L329.8,457.0 L333.5,457.5 L337.2,456.3 L340.7,458.3 L344.3,450.0 L347.7,446.7 L351.3,446.3 L354.8,447.0 L358.5,447.2 L362.2,448.0 L365.7,445.0 L369.0,443.0 L372.7,444.5 L376.3,443.8 L379.0,434.2 L383.3,424.7 L386.3,437.5 L390.0,435.8 L393.3,435.3 L397.0,435.3 L400.5,437.5 L404.2,433.3 L407.8,430.5 L411.3,432.0 L415.0,434.2 L418.7,425.0 L422.2,429.2 L425.8,426.7 L429.3,428.3 L432.8,428.3 L436.3,411.3 L440.0,416.7 L443.7,418.3 L447.2,417.5 L450.8,409.2 L454.5,410.8 L458.0,418.0 L461.7,418.0 L465.2,417.5 L468.7,404.7 L472.2,405.8 L475.8,406.7 L479.3,399.2 L483.0,400.8 L486.5,395.3 L490.0,399.5 L493.3,399.5 L497.0,391.3 L500.5,392.8 L504.2,392.5 L507.8,390.5 L511.3,392.5 L515.0,392.2 L518.3,391.7 L522.0,395.5 L525.5,384.2 L529.2,385.5 L532.8,386.7 L536.3,387.5 L540.0,386.3 L543.3,388.3 L547.0,388.8 L550.5,389.2 L554.2,387.5 L557.8,384.2 L561.3,383.3 L565.0,381.7 L568.3,380.8 L572.0,383.8 L575.5,382.8 L578.7,381.7 L582.2,385.8 L585.8,391.7 L589.5,385.0 L593.0,381.2 L596.7,377.5 L600.3,377.5 L603.8,373.3 L607.5,373.7 L611.0,373.3 L614.7,362.0 L618.3,362.0 L621.8,362.2 L625.3,364.2 L628.8,360.8 L632.5,362.0 L636.2,362.2 L639.7,363.3 L643.3,358.3 L646.7,355.8 L650.3,357.0 L653.8,357.2 L657.5,357.5 L661.0,357.2 L664.5,360.8 L668.3,363.0 L671.7,365.0 L675.3,366.7 L678.8,375.8 L682.5,379.7 L685.8,378.7 L688.0,379.7 L692.7,379.5 L696.2,376.7 L699.8,352.8 L703.5,360.7 L707.0,362.8 L710.7,362.8 L714.2,364.0 L717.8,361.2 L721.0,362.8 L724.8,352.0 L728.2,353.3 L731.8,354.5 L735.3,355.7 L739.0,357.0 L742.3,369.5 L746.0,352.8 L749.5,354.5 L753.2,353.7 L756.7,352.5 L760.3,353.7 L763.7,353.7 L767.3,347.5 L770.8,349.5 L774.2,350.3 L777.8,350.7 L781.5,351.2 L785.2,352.8 L788.7,352.3 L792.3,352.0 L795.7,339.8 L799.3,342.0 L802.8,336.7 L806.5,345.3 L810.0,347.8 L813.7,337.0 L817.3,335.0 L820.7,337.0 L824.3,337.3 L827.8,337.8 L831.5,334.5 L834.8,333.2 L838.5,330.7 L842.0,330.8 L845.7,319.5 L849.0,309.5 L852.7,307.8 L856.2,298.2 L859.8,297.8 L863.3,296.2 L867.0,293.7 L870.3,294.2 L874.0,287.3 L877.3,292.5 L881.0,293.7 L884.5,292.5 L888.2,284.5 L891.8,288.7 L895.3,301.7 L899.0,288.7 L902.5,288.3 L906.2,279.5 L909.7,280.0 L913.2,279.5 L916.8,291.5 L920.3,292.3 L924.0,282.3 L927.5,280.0 L931.2,280.8 L934.5,282.0 L938.2,270.7 L941.7,270.7 L945.3,276.7 L948.8,278.3 L952.5,290.7 L956.0,290.3 L959.3,289.2 L963.0,274.8 L966.5,287.5 L970.2,287.3 L973.7,286.7 L977.3,286.7 L980.7,286.7 L984.3,275.8 L987.8,269.0 L991.5,272.8 L994.8,274.8 L997.0,275.3 L1001.7,276.3 L1006.0,289.7 L1008.8,285.8 L1012.5,278.3 L1016.0,276.7 L1019.7,276.7 L1023.2,273.3 L1026.8,268.8 L1030.5,269.7 L1033.8,275.0 L1037.2,277.0 L1040.8,288.0 L1044.3,289.2 L1048.0,300.0 L1051.7,296.3 L1055.2,298.8 L1058.8,305.8 L1062.2,302.8 L1065.8,303.3 L1069.3,298.8 L1073.0,288.7 L1076.3,290.5 L1080.0,292.5 L1083.5,295.0 L1087.2,295.8 L1090.8,294.2 L1094.3,293.8 L1097.7,294.2 L1101.3,292.2 L1105.0,297.8 L1108.5,300.8 L1112.2,303.7 L1115.8,306.7 L1119.3,303.3 L1123.0,282.8 L1126.3,283.3 L1130.0,296.7 L1133.5,294.2 L1137.2,294.2 L1140.7,291.3 L1144.2,289.2 L1147.7,291.7 L1151.3,288.7 L1155.0,285.0 L1158.3,286.2 L1161.8,286.2 L1165.5,294.5 L1169.2,293.8 L1172.7,295.8 L1176.3,322.0 L1179.8,308.0 L1183.5,307.5 L1186.8,302.5 L1190.5,297.8 L1194.2,296.7 L1197.7,294.2 L1201.3,292.5 L1204.7,288.3 L1208.3,303.7 L1211.8,303.7 L1215.5,307.5 L1219.2,308.3 L1222.7,308.8 L1226.3,321.3 L1229.7,320.0 L1233.3,322.5 L1236.8,333.3 L1240.5,344.2 L1244.2,343.7 L1247.5,343.0 L1251.0,338.0 L1254.7,337.8 L1258.3,328.7 L1261.8,329.5 L1265.5,327.8 L1269.2,331.2 L1272.7,332.8 L1276.3,327.0 L1279.7,329.7 L1283.3,331.7 L1286.8,333.0 L1290.5,344.2 L1294.2,346.3 L1297.7,348.8 L1301.0,350.8 L1303.8,349.5 L1306.0,349.2 L1307.8,348.8 L1311.5,349.5 L1314.8,342.5 L1318.3,332.8 L1322.0,343.8 L1325.7,343.8 L1329.2,345.3 L1332.5,333.3 L1336.2,318.8 L1339.8,319.5 L1343.2,320.8 L1346.7,321.7 L1350.3,314.2 L1354.0,317.2 L1357.5,317.5 L1361.2,307.5 L1364.5,307.2 L1368.2,304.2 L1371.7,309.2 L1375.3,300.8 L1378.7,300.8 L1382.5,305.5 L1385.8,305.8 L1389.5,304.2 L1393.2,301.3 L1396.7,303.0 L1400.3,281.3 L1404.0,278.7 L1407.3,290.5 L1410.8,290.8 L1414.5,292.2 L1418.2,289.2 L1421.7,290.8 L1425.3,287.5 L1428.7,287.8 L1432.3,289.5 L1435.8,290.8 L1439.5,292.2 L1443.2,290.0 L1446.7,300.0 L1450.3,297.5 L1453.7,298.3 L1457.3,295.0 L1460.8,295.0 L1464.5,295.3 L1468.2,293.8 L1471.7,288.0 L1475.3,289.5 L1478.7,292.5 L1482.3,293.0 L1485.8,292.2 L1489.5,293.0 L1493.2,294.2 L1496.7,290.3 L1500.3,290.8 L1503.7,293.0 L1507.3,296.7 L1510.8,295.0 L1514.5,310.8 L1518.2,315.8 L1521.7,316.7 L1525.3,324.2 L1528.7,323.7 L1532.3,318.0 L1535.3,322.8 L1539.0,331.7 L1542.5,331.2 L1546.2,334.7 L1549.8,335.0 L1553.3,350.0 L1557.0,348.0 L1560.3,348.7 L1564.0,359.2 L1567.5,357.2 L1571.2,364.2 L1574.8,357.8 L1578.2,359.2 L1582.0,361.2 L1585.3,359.5 L1588.7,345.0 L1592.3,332.0 L1595.8,321.7 L1599.5,323.0 L1603.2,327.5 L1606.7,323.8 L1610.3,321.7 L1613.3,322.8 L1615.0,324.5 L1617.5,328.0 L1621.2,328.0 L1624.5,328.3 L1628.0,329.2 L1631.7,332.0 L1635.0,317.8 L1638.7,319.5 L1642.2,321.2 L1645.8,321.2 L1649.5,321.2 L1653.0,322.8 L1656.7,323.0 L1660.0,323.7 L1663.7,330.8 L1667.2,338.7 L1670.8,340.8 L1674.5,340.8 L1678.0,343.3 L1681.3,346.2 L1685.0,334.2 L1688.7,335.3 L1692.2,335.5 L1695.8,334.7 L1699.2,332.0 L1702.8,334.2 L1706.3,335.0 L1710.0,327.5 L1713.3,327.2 L1717.0,317.8 L1720.5,319.7 L1724.2,321.7 L1727.8,317.5 L1731.2,314.7 L1734.7,314.2 L1738.3,320.0 L1741.7,319.2 L1745.3,317.5 L1748.8,330.3 L1752.5,330.0 L1756.2,318.8 L1759.7,314.7 L1763.3,317.8 L1767.0,317.0 L1770.5,315.8 L1774.2,315.0 L1777.5,315.8 L1781.2,314.5 L1784.7,314.2 L1788.3,313.3 L1791.7,302.0 L1795.5,305.0 L1798.8,304.5 L1802.5,305.8 L1806.2,306.2 L1809.7,308.7 L1813.0,299.2 L1816.7,299.2 L1820.3,293.7 L1823.7,305.0 L1827.2,302.5 L1830.8,302.5 L1834.2,302.5 L1837.8,304.7 L1841.3,305.3 L1845.0,306.3 L1848.3,307.0 L1852.2,305.8 L1855.8,305.5 L1859.5,318.8 L1861.7,319.2" stroke="#345c1c" stroke-width="2.0"/>
</g>
<g shape-rendering="crispEdges">
<rect x="70" y="41" width="1792" height="1" fill="#767676"/>
<rect x="70" y="41" width="1" height="662" fill="#767676"/>
<rect x="1861" y="41" width="1" height="662" fill="#767676"/>
<rect x="70" y="702" width="1792" height="1" fill="#767676"/>
<rect x="66" y="40" width="4" height="1" fill="#d0d0d0"/>
<rect x="66" y="151" width="4" height="1" fill="#d0d0d0"/>
<rect x="66" y="261" width="4" height="1" fill="#d0d0d0"/>
<rect x="66" y="371" width="4" height="1" fill="#d0d0d0"/>
<rect x="66" y="482" width="4" height="1" fill="#d0d0d0"/>
<rect x="66" y="592" width="4" height="1" fill="#d0d0d0"/>
<rect x="66" y="702" width="4" height="1" fill="#d0d0d0"/>
<rect x="69" y="721" width="1" height="5" fill="#c8c8c8"/>
<rect x="323" y="721" width="1" height="5" fill="#c8c8c8"/>
<rect x="577" y="721" width="1" height="5" fill="#c8c8c8"/>
<rect x="831" y="721" width="1" height="5" fill="#c8c8c8"/>
<rect x="1086" y="721" width="1" height="5" fill="#c8c8c8"/>
<rect x="1340" y="721" width="1" height="5" fill="#c8c8c8"/>
<rect x="1594" y="721" width="1" height="5" fill="#c8c8c8"/>
<rect x="1848" y="721" width="1" height="5" fill="#c8c8c8"/>
</g>
<text x="65.3" y="44.1" class="ax" text-anchor="end" textLength="19.6" lengthAdjust="spacingAndGlyphs">$80</text>
<text x="65.3" y="154.1" class="ax" text-anchor="end" textLength="19.6" lengthAdjust="spacingAndGlyphs">$60</text>
<text x="65.3" y="265.0" class="ax" text-anchor="end" textLength="19.6" lengthAdjust="spacingAndGlyphs">$40</text>
<text x="65.4" y="375.0" class="ax" text-anchor="end" textLength="19.7" lengthAdjust="spacingAndGlyphs">$20</text>
<text x="64.2" y="484.9" class="ax" text-anchor="end" textLength="12.6" lengthAdjust="spacingAndGlyphs">$0</text>
<text x="65.4" y="596.1" class="ax" text-anchor="end" textLength="24.8" lengthAdjust="spacingAndGlyphs">$-20</text>
<text x="65.4" y="706.2" class="ax" text-anchor="end" textLength="24.8" lengthAdjust="spacingAndGlyphs">$-40</text>
<text class="tt" text-anchor="middle" transform="translate(27.0,370.75) rotate(-90)" textLength="95.0" lengthAdjust="spacingAndGlyphs">Net Amount Won</text>
<text x="70.6" y="734.1" class="ax" text-anchor="middle" textLength="6.6" lengthAdjust="spacingAndGlyphs">0</text>
<text x="316.9" y="734.1" class="ax" text-anchor="end" textLength="6.8" lengthAdjust="spacingAndGlyphs">2</text>
<text x="321.2" y="734.1" class="ax" textLength="20.5" lengthAdjust="spacingAndGlyphs">000</text>
<text x="570.9" y="734.1" class="ax" text-anchor="end" textLength="6.8" lengthAdjust="spacingAndGlyphs">4</text>
<text x="575.2" y="734.1" class="ax" textLength="20.5" lengthAdjust="spacingAndGlyphs">000</text>
<text x="824.9" y="734.1" class="ax" text-anchor="end" textLength="6.8" lengthAdjust="spacingAndGlyphs">6</text>
<text x="829.2" y="734.1" class="ax" textLength="20.5" lengthAdjust="spacingAndGlyphs">000</text>
<text x="1078.9" y="734.1" class="ax" text-anchor="end" textLength="6.8" lengthAdjust="spacingAndGlyphs">8</text>
<text x="1083.2" y="734.1" class="ax" textLength="20.5" lengthAdjust="spacingAndGlyphs">000</text>
<text x="1336.5" y="734.1" class="ax" text-anchor="end" textLength="13.2" lengthAdjust="spacingAndGlyphs">10</text>
<text x="1341.6" y="734.1" class="ax" textLength="20.5" lengthAdjust="spacingAndGlyphs">000</text>
<text x="1590.5" y="734.1" class="ax" text-anchor="end" textLength="13.2" lengthAdjust="spacingAndGlyphs">12</text>
<text x="1595.6" y="734.1" class="ax" textLength="20.5" lengthAdjust="spacingAndGlyphs">000</text>
<text x="1844.5" y="734.1" class="ax" text-anchor="end" textLength="13.2" lengthAdjust="spacingAndGlyphs">14</text>
<text x="1849.6" y="734.1" class="ax" textLength="20.5" lengthAdjust="spacingAndGlyphs">000</text>
<text x="966.7" y="755" class="tt" text-anchor="middle" textLength="35.4" lengthAdjust="spacingAndGlyphs">Hands</text>
<rect x="746" y="778.5" width="16" height="3.5" fill="#990000"/>
<text x="768.2" y="784.7" class="lg" textLength="72.2" lengthAdjust="spacingAndGlyphs">Non Showdown</text>
<rect x="856" y="778.5" width="16" height="3.5" fill="#1f3d9c"/>
<text x="878.1" y="784.7" class="lg" textLength="50.4" lengthAdjust="spacingAndGlyphs">Showdown</text>
<rect x="945" y="778.5" width="16" height="3.5" fill="#9f601f"/>
<text x="967" y="784.7" class="lg" textLength="41.5" lengthAdjust="spacingAndGlyphs">All-in EV</text>
<rect x="1023" y="778.5" width="16" height="3.5" fill="#335c1a"/>
<text x="1045.5" y="784.7" class="lg" textLength="77.8" lengthAdjust="spacingAndGlyphs">Net Amount Won</text>
<text x="1838.8" y="803.9" text-anchor="end" font-size="8px" fill="#c2c2c2" textLength="42" lengthAdjust="spacingAndGlyphs">Powered by</text>
<text x="1838.8" y="817" text-anchor="end" font-size="11px" fill="#3a3a3a" textLength="96.3" lengthAdjust="spacingAndGlyphs">Hold&#39;em Manager</text>
<path d="M1854.8,799.9 L1865.7,805.7 L1865.7,817.5 L1854.8,823.3 L1843.9,817.5 L1843.9,805.7 Z" fill="#f28b57"/>
<text x="1854.9" y="817.7" text-anchor="middle" font-size="16.3px" font-weight="bold" fill="#fff" textLength="11.3" lengthAdjust="spacingAndGlyphs">2</text>
</svg></body></html>
